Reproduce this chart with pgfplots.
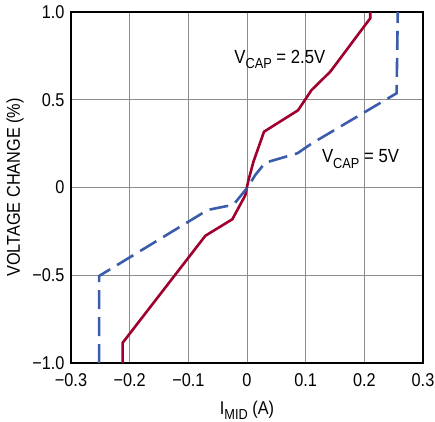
\documentclass[border=0pt]{standalone}
\usepackage{fontspec}
\setmainfont[FakeStretch=0.88]{Liberation Sans}
\usepackage{pgfplots}
\pgfplotsset{compat=1.18}
\definecolor{redc}{HTML}{A0002E}
\definecolor{bluec}{HTML}{3B5CAB}
\newcommand{\sub}[1]{\raisebox{-0.28em}{\fontsize{14.5}{15}\selectfont #1}}
\begin{document}
\begin{tikzpicture}
\begin{axis}[
  scale only axis,
  width=352pt, height=351pt,
  xmin=-0.3, xmax=0.3, ymin=-1, ymax=1,
  xtick={-0.3,-0.2,-0.1,0,0.1,0.2,0.3},
  xticklabels={−0.3,−0.2,−0.1,0,0.1,0.2,0.3},
  ytick={-1,-0.5,0,0.5,1},
  yticklabels={−1.0,−0.5,0,0.5,1.0},
  major tick length=0pt,
  grid=major,
  grid style={draw=black!45, line width=0.8pt},
  axis line style={line width=1.4pt},
  tick label style={font=\fontsize{18.5}{20}\selectfont},
  yticklabel style={xshift=-3pt},
  xticklabel style={yshift=-7pt},
  label style={font=\fontsize{18.5}{20}\selectfont},
  xlabel={I\sub{MID} (A)},
  xlabel style={at={(axis description cs:0.5,0)}, anchor=base, yshift=-51pt},
  ylabel={VOLTAGE CHANGE (\%)},
  ylabel style={at={(axis description cs:0,0.5)}, rotate=0, anchor=base, yshift=51pt},
  clip=false,
]
\addplot[color=redc, line width=2.6pt] coordinates {
(-0.212,-1.0) (-0.212,-0.885) (-0.071,-0.275) (-0.025,-0.181) (-0.003,-0.045)
(0.002,0.035) (0.011,0.147) (0.029,0.318) (0.087,0.44) (0.110,0.555)
(0.142,0.66) (0.210,0.964) (0.210,1.0)
};
\addplot[color=bluec, line width=2.6pt, dash pattern=on 19pt off 8pt] coordinates {
(-0.252,-1.0) (-0.252,-0.504) (-0.067,-0.128) (-0.023,-0.098) (0.002,0.005)
(0.014,0.071) (0.031,0.141) (0.086,0.195) (0.110,0.25) (0.255,0.537) (0.257,1.0)
};
\node[anchor=base, font=\fontsize{19}{20}\selectfont] at (axis cs:0.056,0.709) {V\sub{CAP} = 2.5V};
\node[anchor=base, font=\fontsize{19}{20}\selectfont] at (axis cs:0.1935,0.14) {V\sub{CAP} = 5V};
\end{axis}
\pgfresetboundingbox
\path ([shift={(-71pt,-58pt)}]current axis.south west) rectangle ([shift={(12pt,12pt)}]current axis.north east);
\end{tikzpicture}
\end{document}
